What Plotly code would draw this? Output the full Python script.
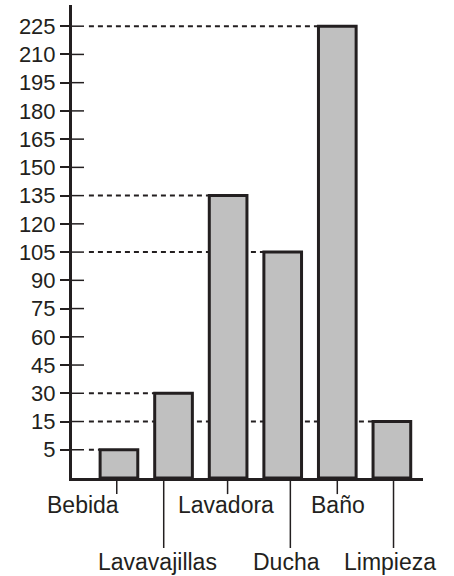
import plotly.graph_objects as go

# ---- data ----
categories = ["Bebida", "Lavavajillas", "Lavadora", "Ducha", "Baño", "Limpieza"]
values = [5, 30, 135, 105, 225, 15]
tick_values = [5, 15, 30, 45, 60, 75, 90, 105, 120, 135, 150, 165, 180, 195, 210, 225]
tick_labels = [str(t) for t in tick_values]

# ---- style / layout ----
ink = "#231f20"
fill = "#c0c0c0"
font_family = "Liberation Sans, Arial, sans-serif"
tick_font_size = 22
label_font_size = 23
bar_w = 0.69
x_range = [-0.86, 5.57]
y_range = [0, 16.75]
label_row = [0, 1, 0, 1, 0, 1]              # staggered label rows
label_dx = [-0.66, -0.29, -0.04, 0.07, 0.02, -0.03]
leader_dx = [-0.04, -0.18, -0.01, 0.14, 0.0, 0.03]
row_text_y = [-0.057, -0.177]               # paper coords
row_line_y = [-0.034, -0.148]


def ordinal(v):
    """Ordinal (equal-step) value scale used by the chart's axis."""
    return tick_values.index(v) + 1


x_idx = list(range(len(categories)))
y_pos = [ordinal(v) for v in values]

fig = go.Figure(
    go.Bar(
        x=x_idx,
        y=y_pos,
        width=bar_w,
        marker=dict(color=fill, line=dict(color=ink, width=3)),
        hoverinfo="skip",
    )
)

shapes = []
# dashed reference lines from axis to each bar's top-left corner
for i, yp in zip(x_idx, y_pos):
    shapes.append(dict(
        type="line", xref="x", yref="y", layer="below",
        x0=x_range[0] + 0.31, x1=i - bar_w / 2, y0=yp, y1=yp,
        line=dict(color=ink, width=2, dash="5px,4px"),
    ))
# inner part of the crossing tick marks
for k in range(1, len(tick_values) + 1):
    shapes.append(dict(
        type="line", xref="x", yref="y", layer="above",
        x0=x_range[0], x1=x_range[0] + 0.22, y0=k, y1=k,
        line=dict(color=ink, width=1.5),
    ))
# leader lines to category labels
for i in x_idx:
    xl = i + leader_dx[i]
    shapes.append(dict(
        type="line", xref="x", yref="paper",
        x0=xl, x1=xl, y0=0, y1=row_line_y[label_row[i]],
        line=dict(color=ink, width=1.5),
    ))

annotations = []
for i, name in enumerate(categories):
    annotations.append(dict(
        x=i + label_dx[i], y=row_text_y[label_row[i]],
        xref="x", yref="paper", text=name, showarrow=False,
        xanchor="center", yanchor="middle",
        font=dict(family=font_family, size=label_font_size, color=ink),
    ))

fig.update_layout(
    width=454, height=576,
    margin=dict(l=72, r=31, t=5, b=98),
    paper_bgcolor="white", plot_bgcolor="white",
    showlegend=False,
    shapes=shapes,
    annotations=annotations,
    font=dict(family=font_family, size=tick_font_size, color=ink),
    xaxis=dict(
        range=x_range, showgrid=False, zeroline=False,
        showticklabels=False, ticks="",
        showline=True, linecolor=ink, linewidth=3,
        fixedrange=True,
    ),
    yaxis=dict(
        range=y_range, showgrid=False, zeroline=False,
        tickmode="array",
        tickvals=list(range(1, len(tick_values) + 1)),
        ticktext=tick_labels,
        ticks="outside", ticklen=9, tickwidth=1.5, tickcolor=ink,
        showline=True, linecolor=ink, linewidth=3,
        tickfont=dict(family=font_family, size=tick_font_size, color=ink),
        fixedrange=True,
    ),
)

fig.write_html(
    "out.html",
    config={"displayModeBar": False},
    post_script="document.body.style.margin='0';document.body.style.overflow='hidden';",
)
